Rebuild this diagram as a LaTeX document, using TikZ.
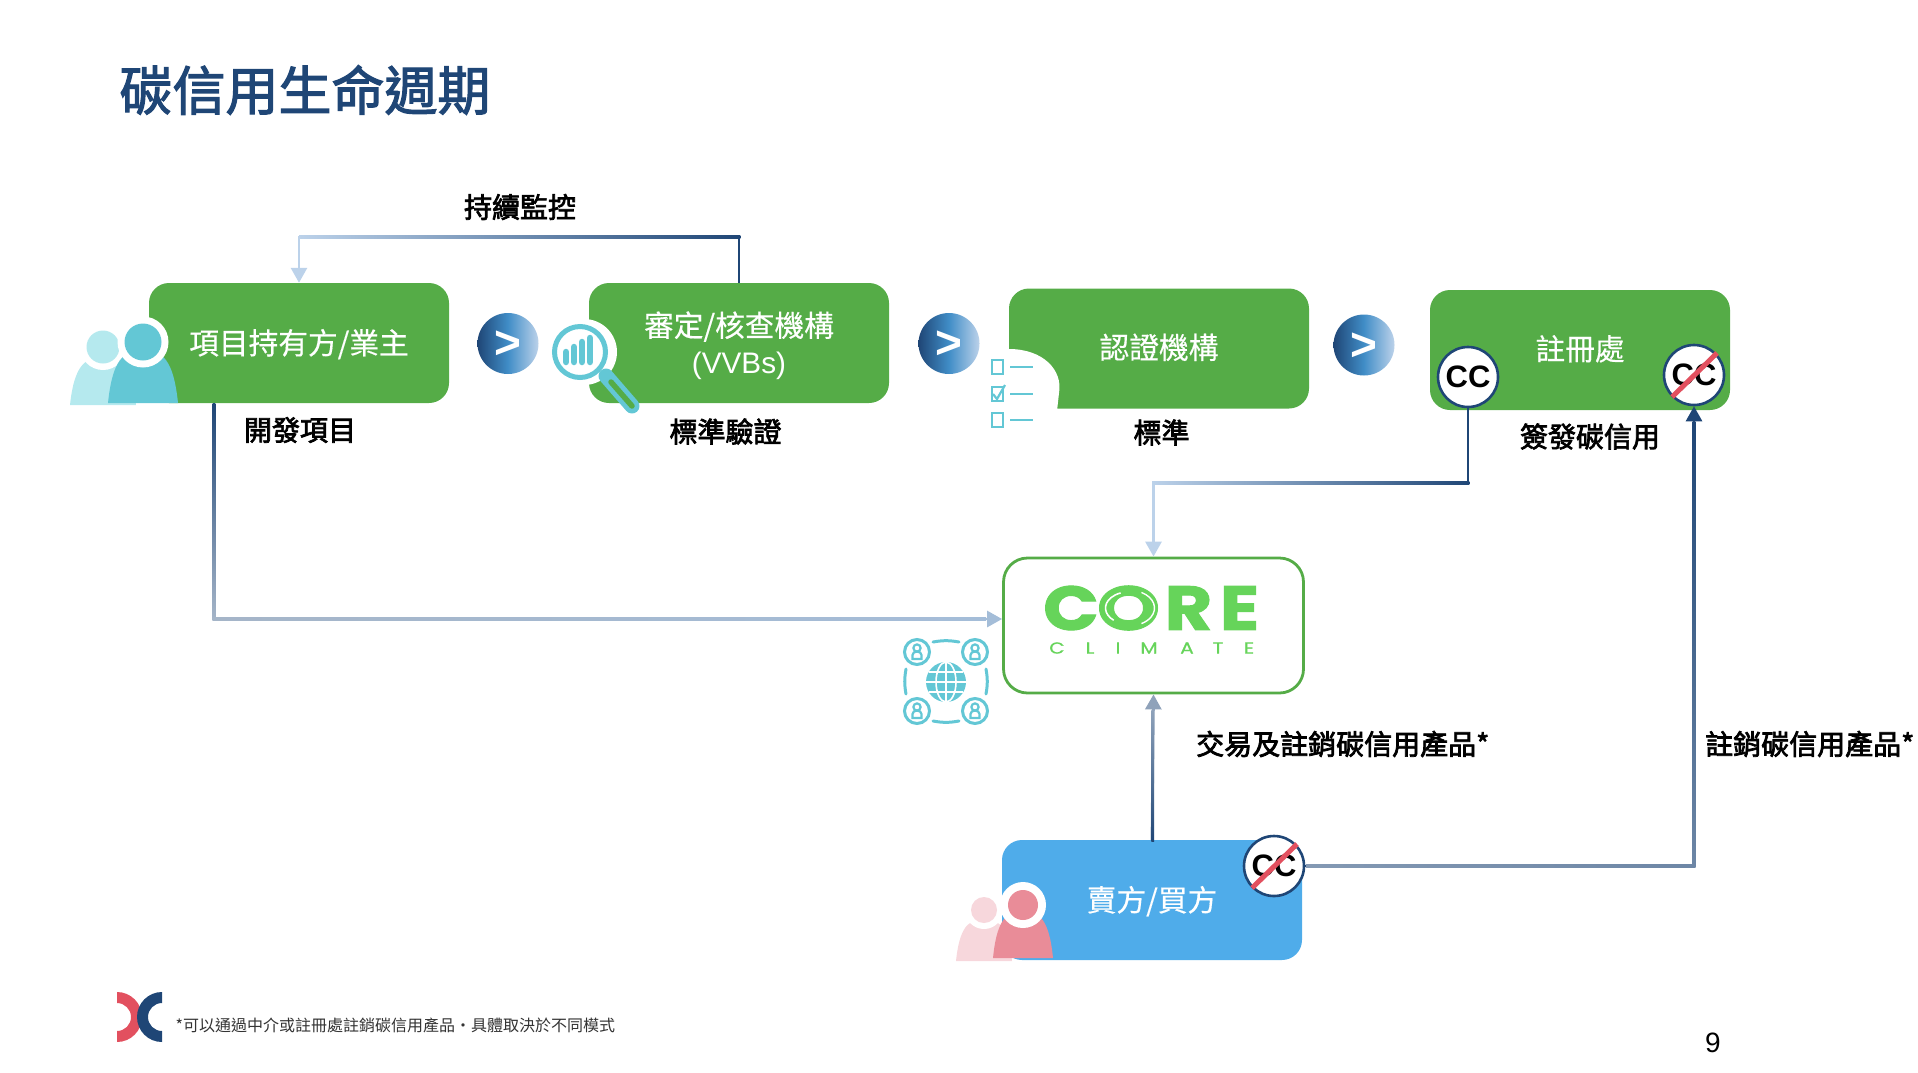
\documentclass[tikz,border=0pt]{standalone}
\usepackage{fontspec}
\setmainfont{Noto Sans CJK TC}
\newfontfamily\titlecjk[FakeBold=2.2]{Noto Sans CJK TC}
\newfontfamily\heavycjk[FakeBold=2.6]{Noto Sans CJK TC}
\newfontfamily\stagecjk[FakeBold=0.4]{Noto Sans CJK TC}
\newfontfamily\latinfont{Liberation Sans}
\newfontfamily\climatefont[FakeBold=0.8,FakeStretch=1.25]{Poppins}
\newfontfamily\coreheavy[UprightFont=* Bold,FakeBold=1.6,FakeStretch=1.18]{Poppins}
\newfontfamily\corewide[UprightFont=* Bold,FakeBold=1.6,FakeStretch=1.3]{Poppins}
\usetikzlibrary{arrows.meta}
\definecolor{boxgreen}{HTML}{55AC47}
\definecolor{seller}{HTML}{4FACEA}
\definecolor{navy}{HTML}{1F4676}
\definecolor{pale}{HTML}{BCD2EA}
\definecolor{teal}{HTML}{63C7D5}
\definecolor{paleteal}{HTML}{B5E9EE}
\definecolor{rose}{HTML}{E98C98}
\definecolor{palerose}{HTML}{F7D7DC}
\definecolor{slash}{HTML}{E2505F}
\definecolor{corelogo}{HTML}{66D45A}
\newcommand{\fs}[1]{\fontsize{#1}{#1}\selectfont}
\newcommand{\nudge}[2]{\raisebox{0pt}[\dimexpr\height+#1\relax][\depth]{#2}}
\newcommand{\hgrad}[5]{\shade[left color=#4,right color=#5] (#1,{#3-1.4}) rectangle (#2,{#3+1.4});}
\newcommand{\vgrad}[5]{\shade[top color=#4,bottom color=#5] ({#1-1.4},#2) rectangle ({#1+1.4},#3);}
% x, head y, head r, ring r, body rx, body top, body bottom, colour
\newcommand{\person}[8]{
    \fill[#8] ({#1-#5},#7) .. controls ({#1-0.85*#5},#6) and ({#1-0.4*#5},#6) .. (#1,#6)
        .. controls ({#1+0.4*#5},#6) and ({#1+0.85*#5},#6) .. ({#1+#5},#7) -- cycle;
    \fill[white] (#1,#2) circle (#4);
    \fill[#8] (#1,#2) circle (#3);
}
\tikzset{
    stagebox/.style={rectangle,rounded corners=20pt,minimum width=300pt,minimum height=120pt,inner sep=0pt,align=center,text=white,font=\stagecjk\fs{29.7}},
    caption/.style={inner sep=0pt,font=\heavycjk\fs{28}},
    nextdot/.style={circle,minimum size=61pt,inner sep=0pt,left color=navy,right color=pale,middle color=seller!70!navy,text=white,font=\latinfont\bfseries\fs{46}},
    ccdot/.style={circle,draw=navy,line width=2.6pt,fill=white,minimum size=60pt,inner sep=0pt,font=\latinfont\bfseries\fs{31}},
    logoletter/.style={inner sep=0pt,text=corelogo,font=\coreheavy\fs{62}},
    link/.style={line width=2.8pt,->},
    >={Triangle[length=15pt,width=16pt]},
}
\begin{document}
\begin{tikzpicture}[x=1pt,y=-1pt]
    \useasboundingbox (0,0) rectangle (1918,1072);

    \node[inner sep=0pt,text=navy,font=\titlecjk\fs{53}] (title) at (305,90) {碳信用生命週期};

    \node[stagebox,fill=boxgreen] (owner) at (299,343) {\nudge{2.4pt}{項目持有方/業主}};
    \node[stagebox,fill=boxgreen] (vvb) at (739,343) {\nudge{4.8pt}{審定/核查機構}\\[7pt]{\latinfont (VVBs)}};
    \node[stagebox,fill=boxgreen] (cert) at (1159,348.5) {\nudge{-2.4pt}{認證機構}};
    \node[stagebox,fill=boxgreen] (registry) at (1580,350) {\nudge{-2.4pt}{註冊處}};
    \node[stagebox,fill=seller] (trader) at (1152,900) {\nudge{2.4pt}{賣方/買方}};
    \node[rectangle,rounded corners=24pt,draw=boxgreen,line width=2.8pt,fill=white,minimum width=300pt,minimum height=135pt] (core) at (1153.5,625.5) {};

    \node[nextdot] (next1) at (508,343.5) {\nudge{2.4pt}{>}};
    \node[nextdot] (next2) at (949,343.5) {\nudge{2.4pt}{>}};
    \node[nextdot] (next3) at (1364,345) {\nudge{2.4pt}{>}};

    \node[ccdot] (ccissue) at (1468,377) {CC};
    \node[ccdot] (ccretire) at (1694,375) {CC};
    \node[ccdot] (cctrade) at (1274,866) {CC};
    \foreach \c in {ccretire,cctrade}
      \draw[slash,line width=5pt] (\c.center)+(-22,22) -- +(23,-22);

    \node[caption] (monitor) at (520,207) {持續監控};
    \node[caption] (develop) at (300,430) {開發項目};
    \node[caption] (validate) at (725.5,431.5) {標準驗證};
    \node[caption] (standard) at (1161.5,432.5) {標準};
    \node[caption] (issue) at (1590,436.5) {簽發碳信用};
    \node[caption,anchor=west] (tradenote) at (1196,744) {交易及註銷碳信用產品*};
    \node[caption,anchor=west] (retirenote) at (1705,744) {註銷碳信用產品*};

    \coordinate (ownerout) at (214,403);
    \coordinate (corein) at (core.west |- 0,619);

    \draw[link,pale] (vvb.north) -- (739,237) -| (owner.north);
    \draw[navy,line width=2.8pt] (vvb.north) -- (739,235.6);
    \hgrad{299}{740.4}{237}{pale}{navy}

    \draw[link,pale!85!navy] (ownerout) |- (corein);
    \vgrad{214}{403}{620.4}{navy}{navy!40}
    \hgrad{212.6}{986}{619}{navy!40}{pale!85!navy}

    \draw[link,pale] (ccissue.south) |- (1153.5,483) -- (core.north);
    \draw[navy,line width=2.8pt] (ccissue.south) -- (1468,481.6);
    \hgrad{1152}{1469.4}{483}{pale}{navy}

    \draw[link,navy!50] (trader.north) -- (core.south);
    \vgrad{1152.8}{710}{841}{navy!50}{navy}

    \draw[link,navy] (cctrade.east) -| (ccretire.south);
    \hgrad{1306}{1695.4}{866}{navy!55}{navy!65}
    \vgrad{1694}{421}{867.4}{navy}{navy!65}

    % checklist
    \fill[white] (1003,349) -- (1009,349) .. controls (1043,349) and (1063,370) .. (1059,393) -- (1057,411) -- (1003,411) -- cycle;
    \foreach \y in {367,394,420} {
      \draw[teal,line width=2.6pt] (992,{\y-7}) rectangle (1003,{\y+7});
      \draw[teal,line width=2.6pt] (1010,\y) -- (1033,\y);
    }
    \draw[teal,line width=2.2pt] (993,394) -- (997,399) -- (1005,385);

    % magnifier
    \fill[white] (584,352) circle (33);
    \draw[teal,line width=15pt,line cap=round] (606,376) -- (632,406);
    \draw[boxgreen,line width=5.5pt,line cap=round] (611,382) -- (632,406);
    \draw[teal,line width=5pt,fill=white] (580,352) circle (25.5);
    \foreach \x/\t in {566/352,574/347,582/342,590/338}
      \draw[teal,line width=6.5pt,line cap=round] (\x,\t) -- (\x,362);

    \person{103}{347}{16.5}{23}{33}{358}{405}{paleteal}
    \person{143}{342}{18.5}{25.5}{35}{351}{403}{teal}
    \person{984}{910}{13}{19}{28}{920}{961}{palerose}
    \person{1023}{905}{15}{23}{30}{912}{958}{rose}

    % logo letters
    \node[logoletter] (coreC) at (1071,608) {C};
    \node[logoletter,font=\corewide\fs{62}] (coreO) at (1128.5,608) {O};
    \node[logoletter] (coreR) at (1188.5,608) {R};
    \node[logoletter] (coreE) at (1239.5,608) {E};
    \draw[white,line width=1.6pt] (1128.5,608) ++(130:23 and 16) arc (130:250:23 and 16);
    \draw[white,line width=1.4pt] (1128.5,608) ++(-60:26 and 18) arc (-60:60:26 and 18);
    \foreach \l/\x in {C/1057,L/1090,I/1118,M/1149,A/1187,T/1218,E/1249}
      \node[inner sep=0pt,text=corelogo,font=\climatefont\fs{16}] (climate\l) at (\x,648) {\l};

    % globe
    \fill[teal] (946,682) circle (20);
    \draw[white,line width=1.6pt] (926,682) -- (966,682) (929,672) -- (963,672) (929,692) -- (963,692) (946,662) -- (946,702);
    \draw[white,line width=1.6pt] (946,682) ellipse (10 and 20);
    \foreach \x/\y in {917/652,975/652,917/711,975/711} {
      \draw[teal,line width=3pt] (\x,\y) circle (12.5);
      \draw[teal,line width=2.2pt] (\x,{\y-4}) circle (3.6);
      \draw[teal,line width=2.2pt] ({\x-4.5},{\y+7}) -- ({\x-4.5},{\y+3}) arc (180:360:4.5 and 3.5) -- ({\x+4.5},{\y+7}) -- cycle;
    }
    \draw[teal,line width=3pt,line cap=round] (933,642) to[bend left=10] (959,642);
    \draw[teal,line width=3pt,line cap=round] (933,721) to[bend right=10] (959,721);
    \draw[teal,line width=3pt,line cap=round] (906,669) to[bend right=10] (906,694);
    \draw[teal,line width=3pt,line cap=round] (986,669) to[bend left=10] (986,694);

    % footer mark
    \fill[slash] (117,992) arc (-90:90:25) -- (117,1031) arc (90:-90:14) -- cycle;
    \fill[navy] (162,992) arc (-90:-270:25) -- (162,1031) arc (-270:-90:14) -- cycle;

    \node[inner sep=0pt,anchor=west,text=black!80,font=\fs{16}] (footnote) at (175.5,1025.5) {*可以通過中介或註冊處註銷碳信用產品‧具體取決於不同模式};
    \node[inner sep=0pt,font=\latinfont\fs{28}] (pageno) at (1713,1043) {9};
\end{tikzpicture}
\end{document}
